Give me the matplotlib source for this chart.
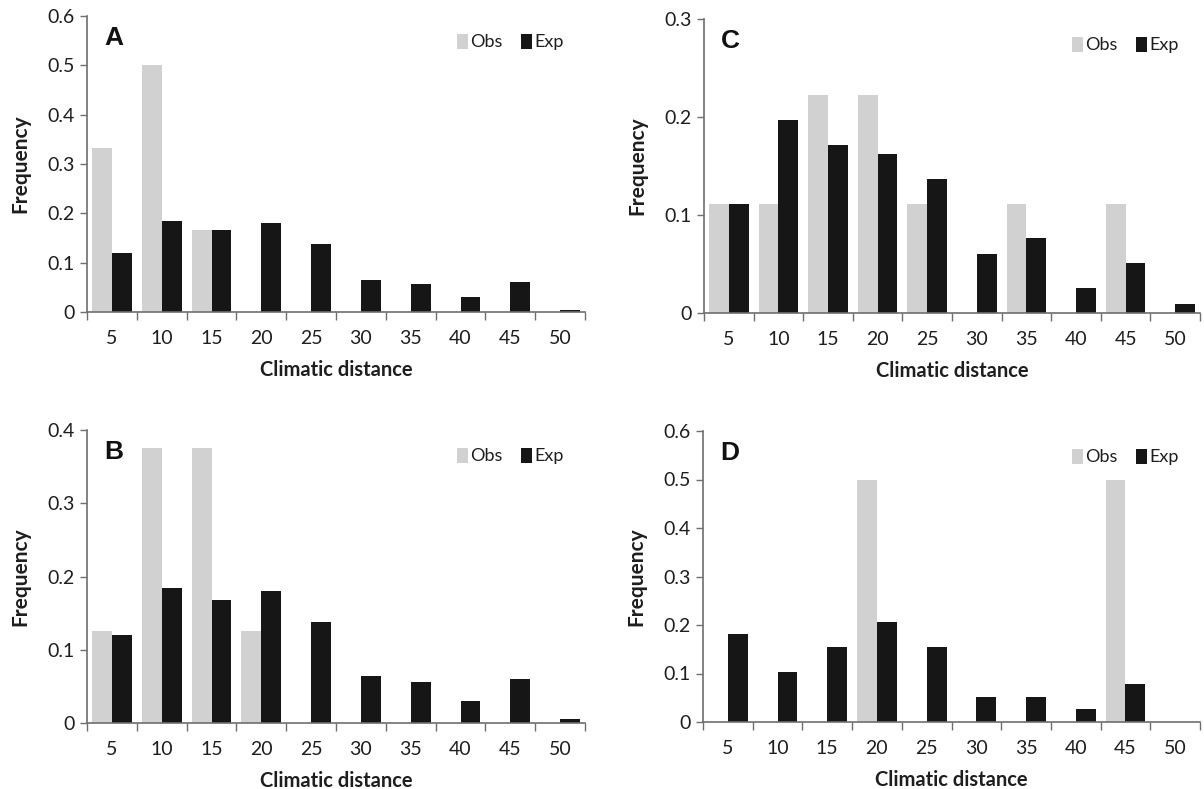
import matplotlib
matplotlib.use("Agg")
import matplotlib.pyplot as plt
import numpy as np
from matplotlib.ticker import FixedLocator, FuncFormatter

categories = ["5", "10", "15", "20", "25", "30", "35", "40", "45", "50"]

obs_A = [0.333, 0.5, 0.167, 0, 0, 0, 0, 0, 0, 0]
exp_A = [0.120, 0.185, 0.167, 0.181, 0.137, 0.065, 0.057, 0.031, 0.060, 0.005]

obs_B = [0.125, 0.375, 0.375, 0.125, 0, 0, 0, 0, 0, 0]
exp_B = [0.120, 0.184, 0.168, 0.180, 0.138, 0.064, 0.056, 0.030, 0.060, 0.005]

obs_C = [0.111, 0.111, 0.222, 0.222, 0.111, 0, 0.111, 0, 0.111, 0]
exp_C = [0.111, 0.197, 0.171, 0.162, 0.137, 0.060, 0.077, 0.026, 0.051, 0.009]

obs_D = [0, 0, 0, 0.5, 0, 0, 0, 0, 0.5, 0]
exp_D = [0.181, 0.103, 0.155, 0.207, 0.155, 0.052, 0.052, 0.026, 0.078, 0]

ymax = {"A": 0.6, "B": 0.4, "C": 0.3, "D": 0.6}
ystep = 0.1

W, H = 1204, 789
fig = plt.figure(figsize=(W / 100, H / 100), dpi=100)

def rect(l, r, t, b):
    return [l / W, 1 - b / H, (r - l) / W, (b - t) / H]

panels = [
    ("A", obs_A, exp_A, rect(87, 585, 16, 312)),
    ("C", obs_C, exp_C, rect(704, 1200, 19, 313)),
    ("B", obs_B, exp_B, rect(87, 585, 430, 723)),
    ("D", obs_D, exp_D, rect(703, 1200, 431, 722)),
]

FONT = "Lato"
grey = "#d0d1d0"
black = "#161616"
axcol = "#6e6e6e"
txt = "#1e1e1e"

for letter, obs, exp, r in panels:
    ax = fig.add_axes(r)
    x = np.arange(len(categories))
    w = 0.4
    ax.bar(x - w / 2, obs, width=w, color=grey, label="Obs", linewidth=0)
    ax.bar(x + w / 2, exp, width=w, color=black, label="Exp", linewidth=0)
    ax.set_xlim(-0.5, len(categories) - 0.5)
    ax.set_ylim(0, ymax[letter])
    ax.set_yticks(np.round(np.arange(0, ymax[letter] + 1e-9, ystep), 2))
    ax.yaxis.set_major_formatter(FuncFormatter(lambda v, p: f"{v:g}"))
    ax.set_xticks(x)
    ax.set_xticklabels(categories)
    ax.xaxis.set_minor_locator(FixedLocator(np.arange(-0.5, len(categories), 1.0)))
    ax.tick_params(axis="x", which="major", length=0, pad=13, labelsize=14, labelcolor=txt)
    ax.tick_params(axis="x", which="minor", length=6, width=1, color=axcol, direction="out")
    ax.tick_params(axis="y", which="major", length=5, width=1, color=axcol, direction="out",
                   labelsize=14, labelcolor=txt, pad=4)
    for lab in ax.get_xticklabels() + ax.get_yticklabels():
        lab.set_fontfamily(FONT)
    for s in ["top", "right"]:
        ax.spines[s].set_visible(False)
    for s in ["left", "bottom"]:
        ax.spines[s].set_color(axcol)
        ax.spines[s].set_linewidth(1.2)
    ax.set_xlabel("Climatic distance", fontfamily=FONT, fontweight="bold", fontsize=14.5,
                  labelpad=9, color=txt)
    ax.set_ylabel("Frequency", fontfamily=FONT, fontweight="bold", fontsize=15,
                  labelpad=12, color=txt)
    ax.text(0.035, 0.965, letter, transform=ax.transAxes, fontfamily="Liberation Sans",
            fontweight="bold", fontsize=19, va="top", ha="left", color="#111111")
    leg = ax.legend(loc="upper right", bbox_to_anchor=(0.99, 0.995), ncol=2, frameon=False,
                    handlelength=0.6, handleheight=0.9, handletextpad=0.15,
                    columnspacing=1.0, prop={"family": FONT, "size": 13})
    for t in leg.get_texts():
        t.set_color(txt)

fig.savefig("out.png", dpi=100)
